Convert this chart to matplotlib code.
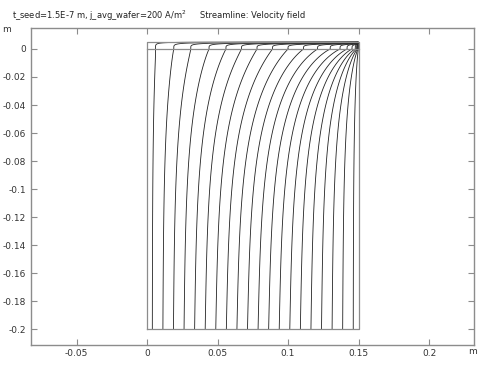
import numpy as np
import matplotlib
matplotlib.use("Agg")
import matplotlib.pyplot as plt

# ---- data ----
domain_width = 0.15          # m
domain_bottom = -0.2         # m
gap_top = 0.005              # m, top of thin gap
# streamline start positions at the inlet (y = -0.2)
start_x = [0.00375, 0.01125, 0.01875, 0.02625, 0.03375, 0.04125, 0.04875,
           0.05625, 0.06375, 0.07125, 0.07875, 0.08625, 0.09375, 0.10125,
           0.10875, 0.11625, 0.12375, 0.13125, 0.13875, 0.14625]
# x where each streamline crosses y = 0
cross_x = [0.006, 0.019, 0.031, 0.044, 0.056, 0.067, 0.078, 0.089, 0.100,
           0.111, 0.121, 0.130, 0.137, 0.142, 0.1455, 0.148, 0.149, 0.1495,
           0.1498, 0.1499]
x_ticks = [-0.05, 0, 0.05, 0.1, 0.15, 0.2]
x_tick_labels = ["-0.05", "0", "0.05", "0.1", "0.15", "0.2"]
y_ticks = [0, -0.02, -0.04, -0.06, -0.08, -0.1, -0.12, -0.14, -0.16, -0.18, -0.2]
y_tick_labels = ["0", "-0.02", "-0.04", "-0.06", "-0.08", "-0.1", "-0.12",
                 "-0.14", "-0.16", "-0.18", "-0.2"]
title_left = "t_seed=1.5E-7 m, j_avg_wafer=200 A/m$^2$"
title_right = "Streamline: Velocity field"

# ---- stream function ----
W = domain_width
H = -domain_bottom
T = gap_top
levels = np.array(start_x) / W
gx = np.concatenate([[0.0], cross_x, [W]])
gv = np.concatenate([[0.0], levels, [1.0]])

x = np.linspace(0, W, 2401)
g = np.interp(x, gx, gv)
# light smoothing of the boundary profile
k = np.exp(-0.5 * (np.arange(-40, 41) / 12.0) ** 2)
k /= k.sum()
gp = np.pad(g, 40, mode="reflect", reflect_type="odd")
g = np.convolve(gp, k, mode="valid")
g[0], g[-1] = 0.0, 1.0
phi_top = g - x / W

N = 800
n = np.arange(1, N + 1)[:, None]
a = n * np.pi / W
sin_nx = np.sin(a * x[None, :])
b = (2.0 / W) * np.trapezoid(phi_top[None, :] * sin_nx, x, axis=1)[:, None]

y_main = np.concatenate([np.linspace(-H, -0.02, 250, endpoint=False),
                         np.linspace(-0.02, 0.0, 300)])
E = np.exp(a * y_main[None, :]) * (1 - np.exp(-2 * a * (y_main[None, :] + H))) \
    / (1 - np.exp(-2 * a * H))
psi_main = x[None, :] / W + E.T @ (sin_nx * b)
psi_main[-1, :] = g

y_gap = np.linspace(0.0, T, 120)[1:]
psi_gap = g[None, :] * (1 - (y_gap[:, None] / T) ** 6)

y = np.concatenate([y_main, y_gap])
psi = np.vstack([psi_main, psi_gap])

fig = plt.figure(figsize=(4.84, 3.65), dpi=100)
ax = fig.add_axes([31 / 484, 1 - 344.5 / 365, 443 / 484, 316.8 / 365])

ax.contour(x, y, psi, levels=levels, colors="#222222", linewidths=0.6)

# domain boundaries
gray = "#8c8c8c"
ax.plot([0, W, W, 0, 0], [domain_bottom, domain_bottom, T, T, domain_bottom],
        color=gray, lw=0.9)
ax.plot([0, W], [0, 0], color=gray, lw=0.9)

ax.set_xlim(-0.0823, 0.2319)
ax.set_ylim(-0.2110, 0.0152)
ax.set_xticks(x_ticks)
ax.set_xticklabels(x_tick_labels)
ax.set_yticks(y_ticks)
ax.set_yticklabels(y_tick_labels)
ax.tick_params(direction="in", length=4, width=0.8, colors=gray,
               labelcolor="#333333", labelsize=6.5, top=True, right=True,
               labeltop=False, labelright=False)
for s in ax.spines.values():
    s.set_color(gray)
    s.set_linewidth(1.0)

fig.text(12 / 484, 1 - 16 / 365, title_left, fontsize=6.0, color="#222222",
         va="center", ha="left")
fig.text(200 / 484, 1 - 16 / 365, title_right, fontsize=6.0, color="#222222",
         va="center", ha="left")
fig.text(2 / 484, 1 - 30 / 365, "m", fontsize=6.5, color="#333333",
         va="center", ha="left")
fig.text(468 / 484, 1 - 352 / 365, "m", fontsize=6.5, color="#333333",
         va="center", ha="left")

fig.savefig("out.png", dpi=100)
